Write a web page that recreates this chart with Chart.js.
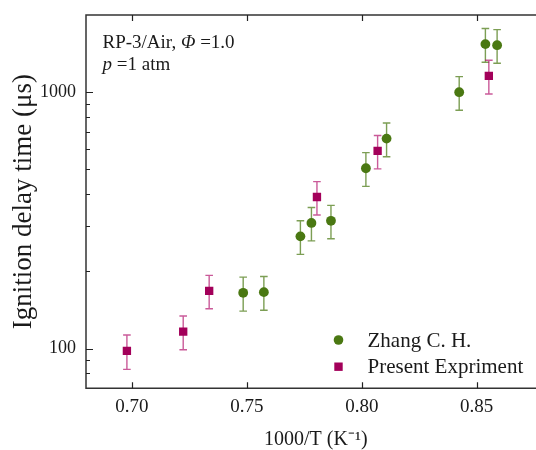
<!DOCTYPE html>
<html><head><meta charset="utf-8">
<script src="https://cdn.jsdelivr.net/npm/chart.js@4.4.1/dist/chart.umd.min.js"></script>
<style>
html,body{margin:0;padding:0;background:#fff;overflow:hidden}
canvas{display:block}
</style></head>
<body><canvas id="c" width="536" height="450"></canvas>
<script>
// ---- data ----
const zhangX   = [0.7484, 0.7574, 0.7733, 0.7781, 0.7866, 0.8018, 0.8108, 0.8424, 0.8538, 0.8589];
const zhangY   = [165, 166, 274, 309, 315, 505, 659, 1000, 1540, 1525];
const zhangErr = [25, 25, 41, 46, 47, 76, 99, 150, 231, 229];

const presentX   = [0.6978, 0.7223, 0.7336, 0.7805, 0.8069, 0.8553];
const presentY   = [98, 116.5, 168, 390, 590, 1158];
const presentErr = [15, 17.5, 25, 58, 88, 174];

const xTickValues = [0.70, 0.75, 0.80, 0.85];
const yMajorTicks = [100, 1000];
const yAllTicks   = [70, 80, 90, 100, 200, 300, 400, 500, 600, 700, 800, 900, 1000, 2000];

const seriesNames = ['Zhang C. H.', 'Present Expriment'];
const GREEN = '#4a7812';
const MAGENTA = '#a3005a';
const FONT = "'Liberation Serif', 'Times New Roman', serif";
const TXT = '#1a1a1a';

// fixed plot-area box (pixels)
const AREA = {left: 86, right: 545.6, top: 15, bottom: 388.3};

const fixArea = {
  id: 'fixArea',
  afterLayout(chart) {
    const x = chart.scales.x, y = chart.scales.y;
    x.left = AREA.left; x.right = AREA.right; x.width = AREA.right - AREA.left;
    x.top = AREA.bottom; x.bottom = chart.height; x.height = chart.height - AREA.bottom;
    y.left = 0; y.right = AREA.left; y.width = AREA.left;
    y.top = AREA.top; y.bottom = AREA.bottom; y.height = AREA.bottom - AREA.top;
    x.configure(); y.configure();
    const ca = chart.chartArea;
    ca.left = AREA.left; ca.right = AREA.right; ca.top = AREA.top; ca.bottom = AREA.bottom;
    ca.width = AREA.right - AREA.left; ca.height = AREA.bottom - AREA.top;
  }
};

const errorBars = {
  id: 'errorBars',
  beforeDatasetsDraw(chart) {
    const {ctx, scales: {x, y}} = chart;
    chart.data.datasets.forEach(ds => {
      ctx.save();
      ctx.strokeStyle = ds.errColor;
      ctx.lineWidth = 1.4;
      ds.data.forEach((p, i) => {
        const e = ds.errors[i];
        const px = x.getPixelForValue(p.x);
        const yt = y.getPixelForValue(p.y + e);
        const yb = y.getPixelForValue(p.y - e);
        ctx.beginPath();
        ctx.moveTo(px, yt); ctx.lineTo(px, yb);
        ctx.moveTo(px - 3.8, yt); ctx.lineTo(px + 3.8, yt);
        ctx.moveTo(px - 3.8, yb); ctx.lineTo(px + 3.8, yb);
        ctx.stroke();
      });
      ctx.restore();
    });
  }
};

const frame = {
  id: 'frame',
  afterDraw(chart) {
    const {ctx, chartArea: a, scales: {x, y}} = chart;
    ctx.save();
    ctx.strokeStyle = '#333';
    ctx.lineWidth = 1.5;
    ctx.beginPath();
    ctx.moveTo(a.right, a.top); ctx.lineTo(a.left, a.top);
    ctx.lineTo(a.left, a.bottom); ctx.lineTo(a.right, a.bottom);
    ctx.stroke();
    ctx.lineWidth = 1.2;
    ctx.strokeStyle = '#222';
    ctx.beginPath();
    x.ticks.forEach(t => {
      const px = Math.round(x.getPixelForValue(t.value)) + 0.5;
      ctx.moveTo(px, a.bottom); ctx.lineTo(px, a.bottom - 6);
      ctx.moveTo(px, a.top); ctx.lineTo(px, a.top + 6);
    });
    y.ticks.forEach(t => {
      if (t.value <= y.min || t.value >= y.max) return;
      const py = Math.round(y.getPixelForValue(t.value)) + 0.5;
      const len = yMajorTicks.includes(t.value) ? 7 : 4;
      ctx.moveTo(a.left, py); ctx.lineTo(a.left + len, py);
    });
    ctx.stroke();
    ctx.restore();
  }
};

const annotations = {
  id: 'annotations',
  afterDraw(chart) {
    const ctx = chart.ctx;
    ctx.save();
    ctx.fillStyle = TXT;
    ctx.textBaseline = 'alphabetic';
    let xx = 102.5;
    const parts1 = [['RP-3/Air, ', ''], ['\u03A6', 'italic '], [' =1.0', '']];
    parts1.forEach(([t, st]) => {
      ctx.font = st + '19px ' + FONT;
      ctx.fillText(t, xx, 48);
      xx += ctx.measureText(t).width;
    });
    xx = 102.5;
    const parts2 = [['p', 'italic '], [' =1 atm', '']];
    parts2.forEach(([t, st]) => {
      ctx.font = st + '19px ' + FONT;
      ctx.fillText(t, xx, 70);
      xx += ctx.measureText(t).width;
    });
    // legend
    ctx.font = '21px ' + FONT;
    ctx.textBaseline = 'middle';
    chart.data.datasets.forEach((ds, i) => {
      const cy = 340 + i * 26.7;
      ctx.fillStyle = ds.backgroundColor;
      if (ds.pointStyle === 'rect') {
        ctx.fillRect(338.5 - 4.2, cy - 4.2, 8.4, 8.4);
      } else {
        ctx.beginPath(); ctx.arc(338.5, cy, 4.8, 0, Math.PI * 2); ctx.fill();
      }
      ctx.fillStyle = TXT;
      ctx.fillText(ds.label, 367.5, cy + 1);
    });
    ctx.restore();
  }
};

new Chart(document.getElementById('c'), {
  type: 'scatter',
  data: {
    datasets: [
      {
        label: seriesNames[0],
        data: zhangX.map((v, i) => ({x: v, y: zhangY[i]})),
        errors: zhangErr,
        errColor: 'rgba(74,120,18,0.72)',
        pointStyle: 'circle', pointRadius: 4.9,
        backgroundColor: GREEN, borderColor: GREEN, borderWidth: 0
      },
      {
        label: seriesNames[1],
        data: presentX.map((v, i) => ({x: v, y: presentY[i]})),
        errors: presentErr,
        errColor: 'rgba(180,20,110,0.7)',
        pointStyle: 'rect', pointRadius: 5.9,
        backgroundColor: MAGENTA, borderColor: MAGENTA, borderWidth: 0
      }
    ]
  },
  options: {
    responsive: false,
    animation: false,
    events: [],
    layout: {padding: {top: 15, right: 0, left: 0, bottom: 0}},
    plugins: {legend: {display: false}, tooltip: {enabled: false}},
    scales: {
      x: {
        type: 'linear', min: 0.68, max: 0.88,
        afterBuildTicks: s => { s.ticks = xTickValues.map(v => ({value: v})); },
        afterFit: s => { s.height = 61.7; s.paddingLeft = 0; s.paddingRight = 0; },
        grid: {display: false, drawTicks: false},
        border: {display: false},
        ticks: {autoSkip: false, maxRotation: 0, padding: 7, color: TXT,
                font: {family: FONT, size: 19},
                callback: v => Number(v).toFixed(2)},
        title: {display: true, text: '1000/T (K\u207B\u00B9)', color: TXT,
                font: {family: FONT, size: 20, lineHeight: 1}, padding: {top: 0, bottom: 0}}
      },
      y: {
        type: 'logarithmic', min: 70, max: 2000,
        afterBuildTicks: s => { s.ticks = yAllTicks.map(v => ({value: v, major: yMajorTicks.includes(v)})); },
        afterFit: s => { s.width = 86; s.paddingTop = 0; s.paddingBottom = 0; },
        grid: {display: false, drawTicks: false},
        border: {display: false},
        ticks: {autoSkip: false, padding: 10, color: TXT,
                font: {family: FONT, size: 18},
                callback: v => yMajorTicks.includes(v) ? String(v) : ''},
        title: {display: true, text: 'Ignition delay time (\u03BCs)', color: TXT,
                font: {family: FONT, size: 27}, padding: {top: 8, bottom: 0}}
      }
    }
  },
  plugins: [fixArea, errorBars, frame, annotations]
});
</script>
</body></html>
